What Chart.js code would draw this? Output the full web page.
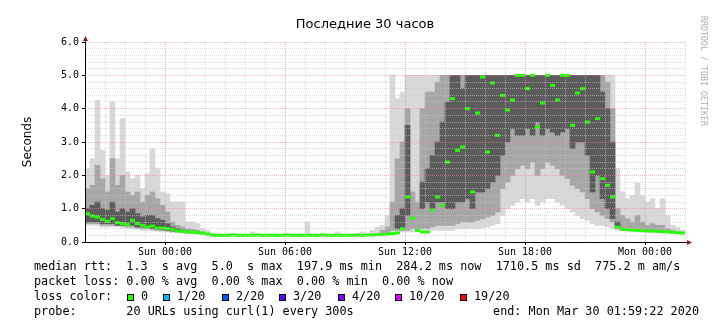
<!DOCTYPE html>
<html>
<head>
<meta charset="utf-8">
<title>Последние 30 часов</title>
<script src="https://cdn.jsdelivr.net/npm/chart.js@4.4.1/dist/chart.umd.min.js"></script>
<style>
  html, body { margin: 0; padding: 0; background: #fff; }
  #graph { position: relative; width: 724px; height: 326px; overflow: hidden; background: #fff; }
  #graph canvas { position: absolute; left: 0; top: 0; }
  .mono { position: absolute; white-space: pre; color: #000;
          font-family: "DejaVu Sans Mono", monospace; font-size: 11.8px; line-height: 15px; }
  #title { position: absolute; left: 0; top: 16px; width: 730px; text-align: center;
           font-family: "DejaVu Sans", sans-serif; font-size: 13px; line-height: 15px; color: #000; }
  #stamp { position: absolute; left: 709px; top: 16px; transform: rotate(90deg); transform-origin: 0 0;
           white-space: pre; font-family: "DejaVu Sans Mono", monospace; font-size: 8.3px;
           line-height: 10px; color: #b0b0b0; }
  .box { position: absolute; top: 294px; width: 5px; height: 5px; border: 1px solid #000; }
</style>
</head>
<body>
<div id="graph">
  <canvas id="rtt" width="724" height="326"></canvas>
  <div id="title">Последние 30 часов</div>
  <div id="stamp">RRDTOOL / TOBI OETIKER</div>
  <div class="mono" style="left:34px; top:259px">median rtt:  1.3  s avg  5.0  s max  197.9 ms min  284.2 ms now  1710.5 ms sd  775.2 m am/s</div>
  <div class="mono" style="left:34px; top:274px">packet loss: 0.00 % avg  0.00 % max  0.00 % min  0.00 % now</div>
  <div class="mono" style="left:34px; top:289px">loss color:</div>
  <div id="losskey"></div>
  <div class="mono" style="left:34px; top:304px">probe:       20 URLs using curl(1) every 300s</div>
  <div class="mono" style="right:25px; top:304px">end: Mon Mar 30 01:59:22 2020</div>
</div>
<script>
// 15-minute columns from Sat 20:00 to Mon 02:00 (120 columns, values in seconds)
const slotHours = 0.25;
const xTickHours = [4, 10, 16, 22, 28];
const xTickLabels = ['Sun 00:00', 'Sun 06:00', 'Sun 12:00', 'Sun 18:00', 'Mon 00:00'];

const medianRtt = [
  0.85, 0.78, 0.75, 0.68, 0.62, 0.70, 0.58, 0.55, 0.52, 0.65,
  0.55, 0.50, 0.45, 0.48, 0.42, 0.42, 0.40, 0.38, 0.33, 0.32,
  0.30, 0.30, 0.28, 0.27, 0.24, 0.21, 0.20, 0.20, 0.20, 0.21,
  0.20, 0.20, 0.20, 0.20, 0.21, 0.20, 0.20, 0.20, 0.20, 0.20,
  0.21, 0.20, 0.20, 0.20, 0.20, 0.20, 0.20, 0.21, 0.20, 0.20,
  0.20, 0.20, 0.20, 0.20, 0.21, 0.20, 0.21, 0.21, 0.22, 0.22,
  0.24, 0.25, 0.27, 0.40, 1.35, 0.72, 0.35, 0.30, 0.30, 0.96,
  1.35, 1.10, 2.40, 4.30, 2.75, 2.85, 4.00, 1.50, 3.87, 4.95,
  2.70, 4.77, 3.20, 4.40, 3.96, 4.26, 5.00, 5.00, 4.60, 5.00,
  3.45, 4.17, 5.00, 4.70, 4.26, 5.00, 5.00, 3.50, 4.47, 4.60,
  3.60, 2.10, 3.70, 1.90, 1.70, 1.35, 0.45, 0.38, 0.37, 0.36,
  0.35, 0.34, 0.33, 0.33, 0.32, 0.31, 0.30, 0.29, 0.28, 0.27
];

// outer smoke: fastest and slowest of the 20 pings
const smokeMin = [
  0.50, 0.50, 0.50, 0.45, 0.45, 0.45, 0.45, 0.42, 0.40, 0.40,
  0.38, 0.35, 0.35, 0.33, 0.32, 0.30, 0.30, 0.28, 0.27, 0.26,
  0.25, 0.24, 0.24, 0.22, 0.20, 0.18, 0.18, 0.18, 0.18, 0.18,
  0.18, 0.18, 0.18, 0.18, 0.18, 0.18, 0.18, 0.18, 0.18, 0.18,
  0.18, 0.18, 0.18, 0.18, 0.18, 0.18, 0.18, 0.18, 0.18, 0.18,
  0.18, 0.18, 0.18, 0.18, 0.18, 0.18, 0.18, 0.18, 0.19, 0.20,
  0.25, 0.30, 0.30, 0.30, 0.30, 0.30, 0.30, 0.30, 0.30, 0.35,
  0.35, 0.35, 0.35, 0.35, 0.40, 0.40, 0.40, 0.40, 0.40, 0.42,
  0.45, 0.50, 0.55, 0.80, 1.00, 1.10, 1.20, 1.30, 1.20, 1.30,
  1.10, 1.20, 1.30, 1.30, 1.20, 1.10, 1.00, 0.90, 0.80, 0.70,
  0.65, 0.55, 0.50, 0.50, 0.45, 0.40, 0.35, 0.33, 0.32, 0.31,
  0.30, 0.30, 0.30, 0.29, 0.29, 0.28, 0.28, 0.27, 0.26, 0.25
];
const smokeMax = [
  2.20, 2.50, 4.25, 2.75, 2.00, 4.20, 2.50, 3.70, 2.10, 1.90,
  2.00, 1.60, 2.05, 2.80, 2.20, 1.50, 1.45, 1.20, 1.20, 1.20,
  0.60, 0.60, 0.55, 0.40, 0.35, 0.25, 0.25, 0.24, 0.25, 0.26,
  0.25, 0.24, 0.25, 0.30, 0.25, 0.24, 0.25, 0.25, 0.24, 0.25,
  0.25, 0.25, 0.24, 0.25, 0.60, 0.25, 0.24, 0.25, 0.25, 0.24,
  0.30, 0.25, 0.24, 0.25, 0.25, 0.30, 0.25, 0.35, 0.45, 0.50,
  0.80, 5.00, 4.30, 4.50, 5.00, 5.00, 5.00, 5.00, 5.00, 5.00,
  5.00, 5.00, 5.00, 5.00, 5.00, 5.00, 5.00, 5.00, 5.00, 5.00,
  5.00, 5.00, 5.00, 5.00, 5.00, 5.00, 5.00, 5.00, 5.00, 5.00,
  5.00, 5.00, 5.00, 5.00, 5.00, 5.00, 5.00, 5.00, 5.00, 5.00,
  5.00, 5.00, 5.00, 5.00, 5.00, 5.00, 2.20, 1.50, 1.30, 1.40,
  1.77, 1.40, 1.20, 1.30, 1.00, 1.30, 0.80, 0.50, 0.45, 0.35
];

// middle smoke band
const midLo = [
  0.55, 0.55, 0.55, 0.50, 0.50, 0.50, 0.50, 0.48, 0.45, 0.45,
  0.42, 0.40, 0.40, 0.38, 0.36, 0.35, 0.33, 0.32, 0.30, 0.28,
  0.27, 0.26, 0.25, 0.24, 0.22, null, null, null, null, null,
  null, null, null, null, null, null, null, null, null, null,
  null, null, null, null, null, null, null, null, null, null,
  null, null, null, null, null, null, null, null, null, 0.22,
  0.28, 0.35, 0.35, 0.35, 0.35, 0.40, 0.40, 0.40, 0.40, 0.45,
  0.50, 0.50, 0.50, 0.50, 0.55, 0.60, 0.60, 0.60, 0.65, 0.70,
  0.75, 0.80, 0.90, 1.60, 1.80, 2.00, 2.20, 2.30, 2.20, 2.40,
  2.00, 2.20, 2.40, 2.30, 2.20, 2.00, 1.90, 1.70, 1.60, 1.50,
  1.30, 1.00, 0.90, 0.80, 0.70, 0.60, 0.40, 0.36, 0.35, 0.34,
  0.33, 0.33, 0.32, 0.32, 0.31, 0.31, 0.30, 0.29, null, null
];
const midHi = [
  1.60, 1.70, 2.30, 1.90, 1.50, 2.50, 1.70, 2.00, 1.50, 1.40,
  1.50, 1.20, 1.40, 1.50, 1.30, 1.10, 0.90, 0.60, 0.50, 0.45,
  0.40, 0.38, 0.35, 0.30, 0.26, null, null, null, null, null,
  null, null, null, null, null, null, null, null, null, null,
  null, null, null, null, null, null, null, null, null, null,
  null, null, null, null, null, null, null, null, null, 0.35,
  0.45, 1.20, 2.50, 3.00, 4.00, 1.50, 1.20, 4.00, 4.50, 4.50,
  4.80, 5.00, 5.00, 5.00, 5.00, 5.00, 5.00, 5.00, 5.00, 5.00,
  5.00, 5.00, 5.00, 5.00, 5.00, 5.00, 5.00, 5.00, 5.00, 5.00,
  5.00, 5.00, 5.00, 5.00, 5.00, 5.00, 5.00, 5.00, 5.00, 5.00,
  5.00, 5.00, 5.00, 5.00, 4.80, 4.00, 1.00, 0.80, 0.70, 0.60,
  0.80, 0.60, 0.50, 0.55, 0.50, 0.50, 0.40, 0.35, null, null
];

// dense core of the smoke
const coreLo = [
  0.60, 0.60, 0.60, 0.55, 0.55, 0.55, 0.50, 0.50, 0.50, 0.50,
  0.45, 0.45, 0.42, 0.40, 0.38, 0.37, 0.35, 0.33, 0.31, 0.30,
  0.28, 0.28, null, null, null, null, null, null, null, null,
  null, null, null, null, null, null, null, null, null, null,
  null, null, null, null, null, null, null, null, null, null,
  null, null, null, null, null, null, null, null, null, null,
  null, null, 0.40, 0.40, 0.80, null, null, 1.00, 1.20, 1.00,
  1.20, 1.20, 1.00, 1.00, 1.20, 1.20, 1.30, 1.00, 1.50, 1.50,
  1.60, 1.80, 2.00, 2.60, 3.00, 3.40, 3.20, 3.20, 3.40, 3.20,
  3.60, 3.20, 3.40, 3.30, 3.20, 3.30, 3.40, 2.80, 3.00, 3.00,
  2.60, 1.50, 2.00, 1.30, 1.00, 0.70, 0.42, null, null, null,
  null, null, null, null, null, null, null, null, null, null
];
const coreHi = [
  1.00, 1.10, 1.20, 1.00, 0.95, 1.20, 0.90, 1.00, 0.90, 1.00,
  0.85, 0.75, 0.80, 0.80, 0.70, 0.65, 0.55, 0.45, 0.40, 0.36,
  0.33, 0.32, null, null, null, null, null, null, null, null,
  null, null, null, null, null, null, null, null, null, null,
  null, null, null, null, null, null, null, null, null, null,
  null, null, null, null, null, null, null, null, null, null,
  null, null, 0.80, 1.00, 3.50, null, null, 1.80, 2.20, 2.60,
  3.00, 3.60, 4.20, 5.00, 5.00, 4.60, 5.00, 5.00, 5.00, 5.00,
  5.00, 5.00, 5.00, 5.00, 5.00, 5.00, 5.00, 5.00, 5.00, 5.00,
  5.00, 5.00, 5.00, 5.00, 5.00, 5.00, 5.00, 5.00, 5.00, 5.00,
  5.00, 5.00, 5.00, 4.50, 4.00, 3.00, 0.60, null, null, null,
  null, null, null, null, null, null, null, null, null, null
];

const lossLevels = ['0', '1/20', '2/20', '3/20', '4/20', '10/20', '19/20'];
const lossColors = ['#26ff00', '#00b8ff', '#0059ff', '#5e00ff', '#7e00ff', '#dd00ff', '#ff0000'];
const lossKeyX = [127, 163, 222, 279, 338, 395, 460];

// loss colour key
const key = document.getElementById('losskey');
lossLevels.forEach((lbl, i) => {
  const b = document.createElement('div');
  b.className = 'box';
  b.style.left = lossKeyX[i] + 'px';
  b.style.background = lossColors[i];
  key.appendChild(b);
  const t = document.createElement('div');
  t.className = 'mono';
  t.style.left = (lossKeyX[i] + 14) + 'px';
  t.style.top = '289px';
  t.textContent = lbl;
  key.appendChild(t);
});

const slotX = i => (i + 0.5) * slotHours;
function band(lo, hi) {
  return lo.map((v, i) => ({ x: slotX(i), y: v == null ? null : [v, hi[i]] }));
}

const monoFont = { family: 'DejaVu Sans Mono', size: 10 };
const isMajorX = v => (Math.round(v) - 4) % 6 === 0;
const isMajorY = v => Math.abs(v - Math.round(v)) < 1e-6;
const majorGrid = 'rgba(232, 140, 140, 0.6)';
const minorGrid = 'rgba(200, 200, 200, 0.6)';

// little red arrow heads at the ends of both axes
const axisArrows = {
  id: 'axisArrows',
  afterDraw(chart) {
    const { ctx, chartArea: a } = chart;
    const ax = a.left + 0.5, ay = a.bottom + 0.5;
    ctx.save();
    ctx.strokeStyle = '#000';
    ctx.lineWidth = 1;
    ctx.beginPath();
    ctx.moveTo(ax, a.top);
    ctx.lineTo(ax, a.top - 2);
    ctx.moveTo(a.right, ay);
    ctx.lineTo(a.right + 3, ay);
    ctx.stroke();
    ctx.fillStyle = '#8b1a1a';
    ctx.beginPath();
    ctx.moveTo(ax, a.top - 6);
    ctx.lineTo(ax - 2.5, a.top - 1);
    ctx.lineTo(ax + 2.5, a.top - 1);
    ctx.closePath();
    ctx.fill();
    ctx.beginPath();
    ctx.moveTo(a.right + 7, ay);
    ctx.lineTo(a.right + 2, ay - 2.5);
    ctx.lineTo(a.right + 2, ay + 2.5);
    ctx.closePath();
    ctx.fill();
    ctx.restore();
  }
};

const barStyle = { type: 'bar', borderWidth: 0, barPercentage: 1, categoryPercentage: 1, grouped: false };

new Chart(document.getElementById('rtt'), {
  type: 'bar',
  data: {
    datasets: [
      {
        type: 'line',
        label: 'median rtt',
        data: medianRtt.map((v, i) => ({ x: slotX(i), y: v })),
        showLine: false,
        pointStyle: 'line',
        pointRadius: 2.5,
        pointHoverRadius: 2.5,
        pointBorderWidth: 3,
        pointBorderColor: '#26ff00',
        pointBackgroundColor: '#26ff00',
        order: 0
      },
      { ...barStyle, label: 'core', data: band(coreLo, coreHi), backgroundColor: '#5c5c5c', order: 1 },
      { ...barStyle, label: 'middle', data: band(midLo, midHi), backgroundColor: '#a6a6a6', order: 2 },
      { ...barStyle, label: 'outer', data: band(smokeMin, smokeMax), backgroundColor: '#d8d8d8', order: 3 }
    ]
  },
  options: {
    responsive: false,
    devicePixelRatio: 1,
    animation: false,
    events: [],
    layout: { padding: { top: 42, right: 39, left: 0, bottom: 0 } },
    plugins: { legend: { display: false }, tooltip: { enabled: false }, title: { display: false } },
    scales: {
      x: {
        type: 'linear',
        min: 0,
        max: 30,
        offset: false,
        afterFit: s => { s.height = 84; },
        ticks: {
          stepSize: 1,
          autoSkip: false,
          maxRotation: 0,
          minRotation: 0,
          padding: 1,
          color: '#000',
          font: monoFont,
          callback: v => {
            const k = xTickHours.indexOf(Math.round(v));
            return k >= 0 ? xTickLabels[k] : '';
          }
        },
        grid: {
          offset: false,
          z: 1,
          color: c => isMajorX(c.tick.value) ? majorGrid : minorGrid,
          tickLength: 3,
          tickColor: c => isMajorX(c.tick.value) ? '#000' : 'rgba(0,0,0,0)'
        },
        border: { color: '#000', dash: [1, 1], z: 2 }
      },
      y: {
        min: 0,
        max: 6,
        afterFit: s => { s.width = 85; },
        ticks: {
          stepSize: 0.2,
          maxTicksLimit: 100,
          autoSkip: false,
          padding: 3,
          color: '#000',
          font: monoFont,
          callback: v => isMajorY(v) ? v.toFixed(1) : ''
        },
        grid: {
          z: 1,
          color: c => isMajorY(c.tick.value) ? majorGrid : minorGrid,
          tickLength: 3,
          tickColor: c => isMajorY(c.tick.value) ? '#000' : 'rgba(0,0,0,0)'
        },
        border: { color: '#000', dash: [1, 1], z: 2 },
        title: {
          display: true,
          text: 'Seconds',
          color: '#000',
          font: { family: 'DejaVu Sans', size: 12 },
          padding: { top: 21, bottom: 0 }
        }
      }
    }
  },
  plugins: [axisArrows]
});
</script>
</body>
</html>
